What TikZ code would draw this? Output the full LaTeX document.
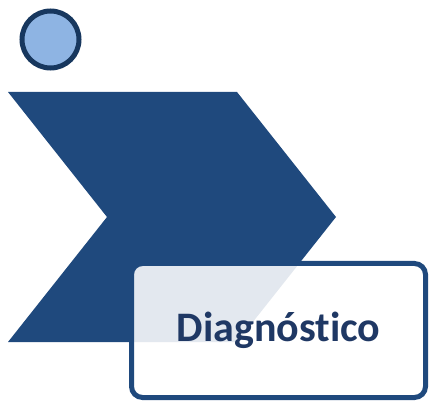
\documentclass[tikz,border=0pt]{standalone}
\usepackage{fontspec}
\setmainfont[Ligatures=NoCommon]{Carlito}
\usetikzlibrary{positioning}
\definecolor{chevblue}{RGB}{31,73,125}
\definecolor{dotfill}{RGB}{142,180,227}
\definecolor{dotline}{RGB}{23,55,94}
\definecolor{textblue}{RGB}{31,56,100}
\tikzset{
  step dot/.style={circle,draw=dotline,fill=dotfill,line width=5pt,minimum size=57pt,inner sep=0pt},
  chevron/.style={fill=chevblue,draw=none},
  title box/.style={draw=chevblue,line width=5pt,rounded corners=11pt,fill=white,fill opacity=0.88,text opacity=1,
    minimum width=294pt,minimum height=134pt,inner sep=0pt,text=textblue,font=\fontsize{42}{46}\selectfont\bfseries},
}

\begin{document}
\begin{tikzpicture}[x=1pt,y=-1pt]
  \useasboundingbox (0,0) rectangle (429,401);
  \node[step dot] (dot) at (50.5,39.5) {};
  \fill[chevron] (8,92) -- (237,92) -- (336,217) -- (237,342) -- (8,342) -- (107,217) -- cycle;
  \node[title box] (title) at (278.5,330.5) {Diagnóstico};
\end{tikzpicture}
\end{document}
